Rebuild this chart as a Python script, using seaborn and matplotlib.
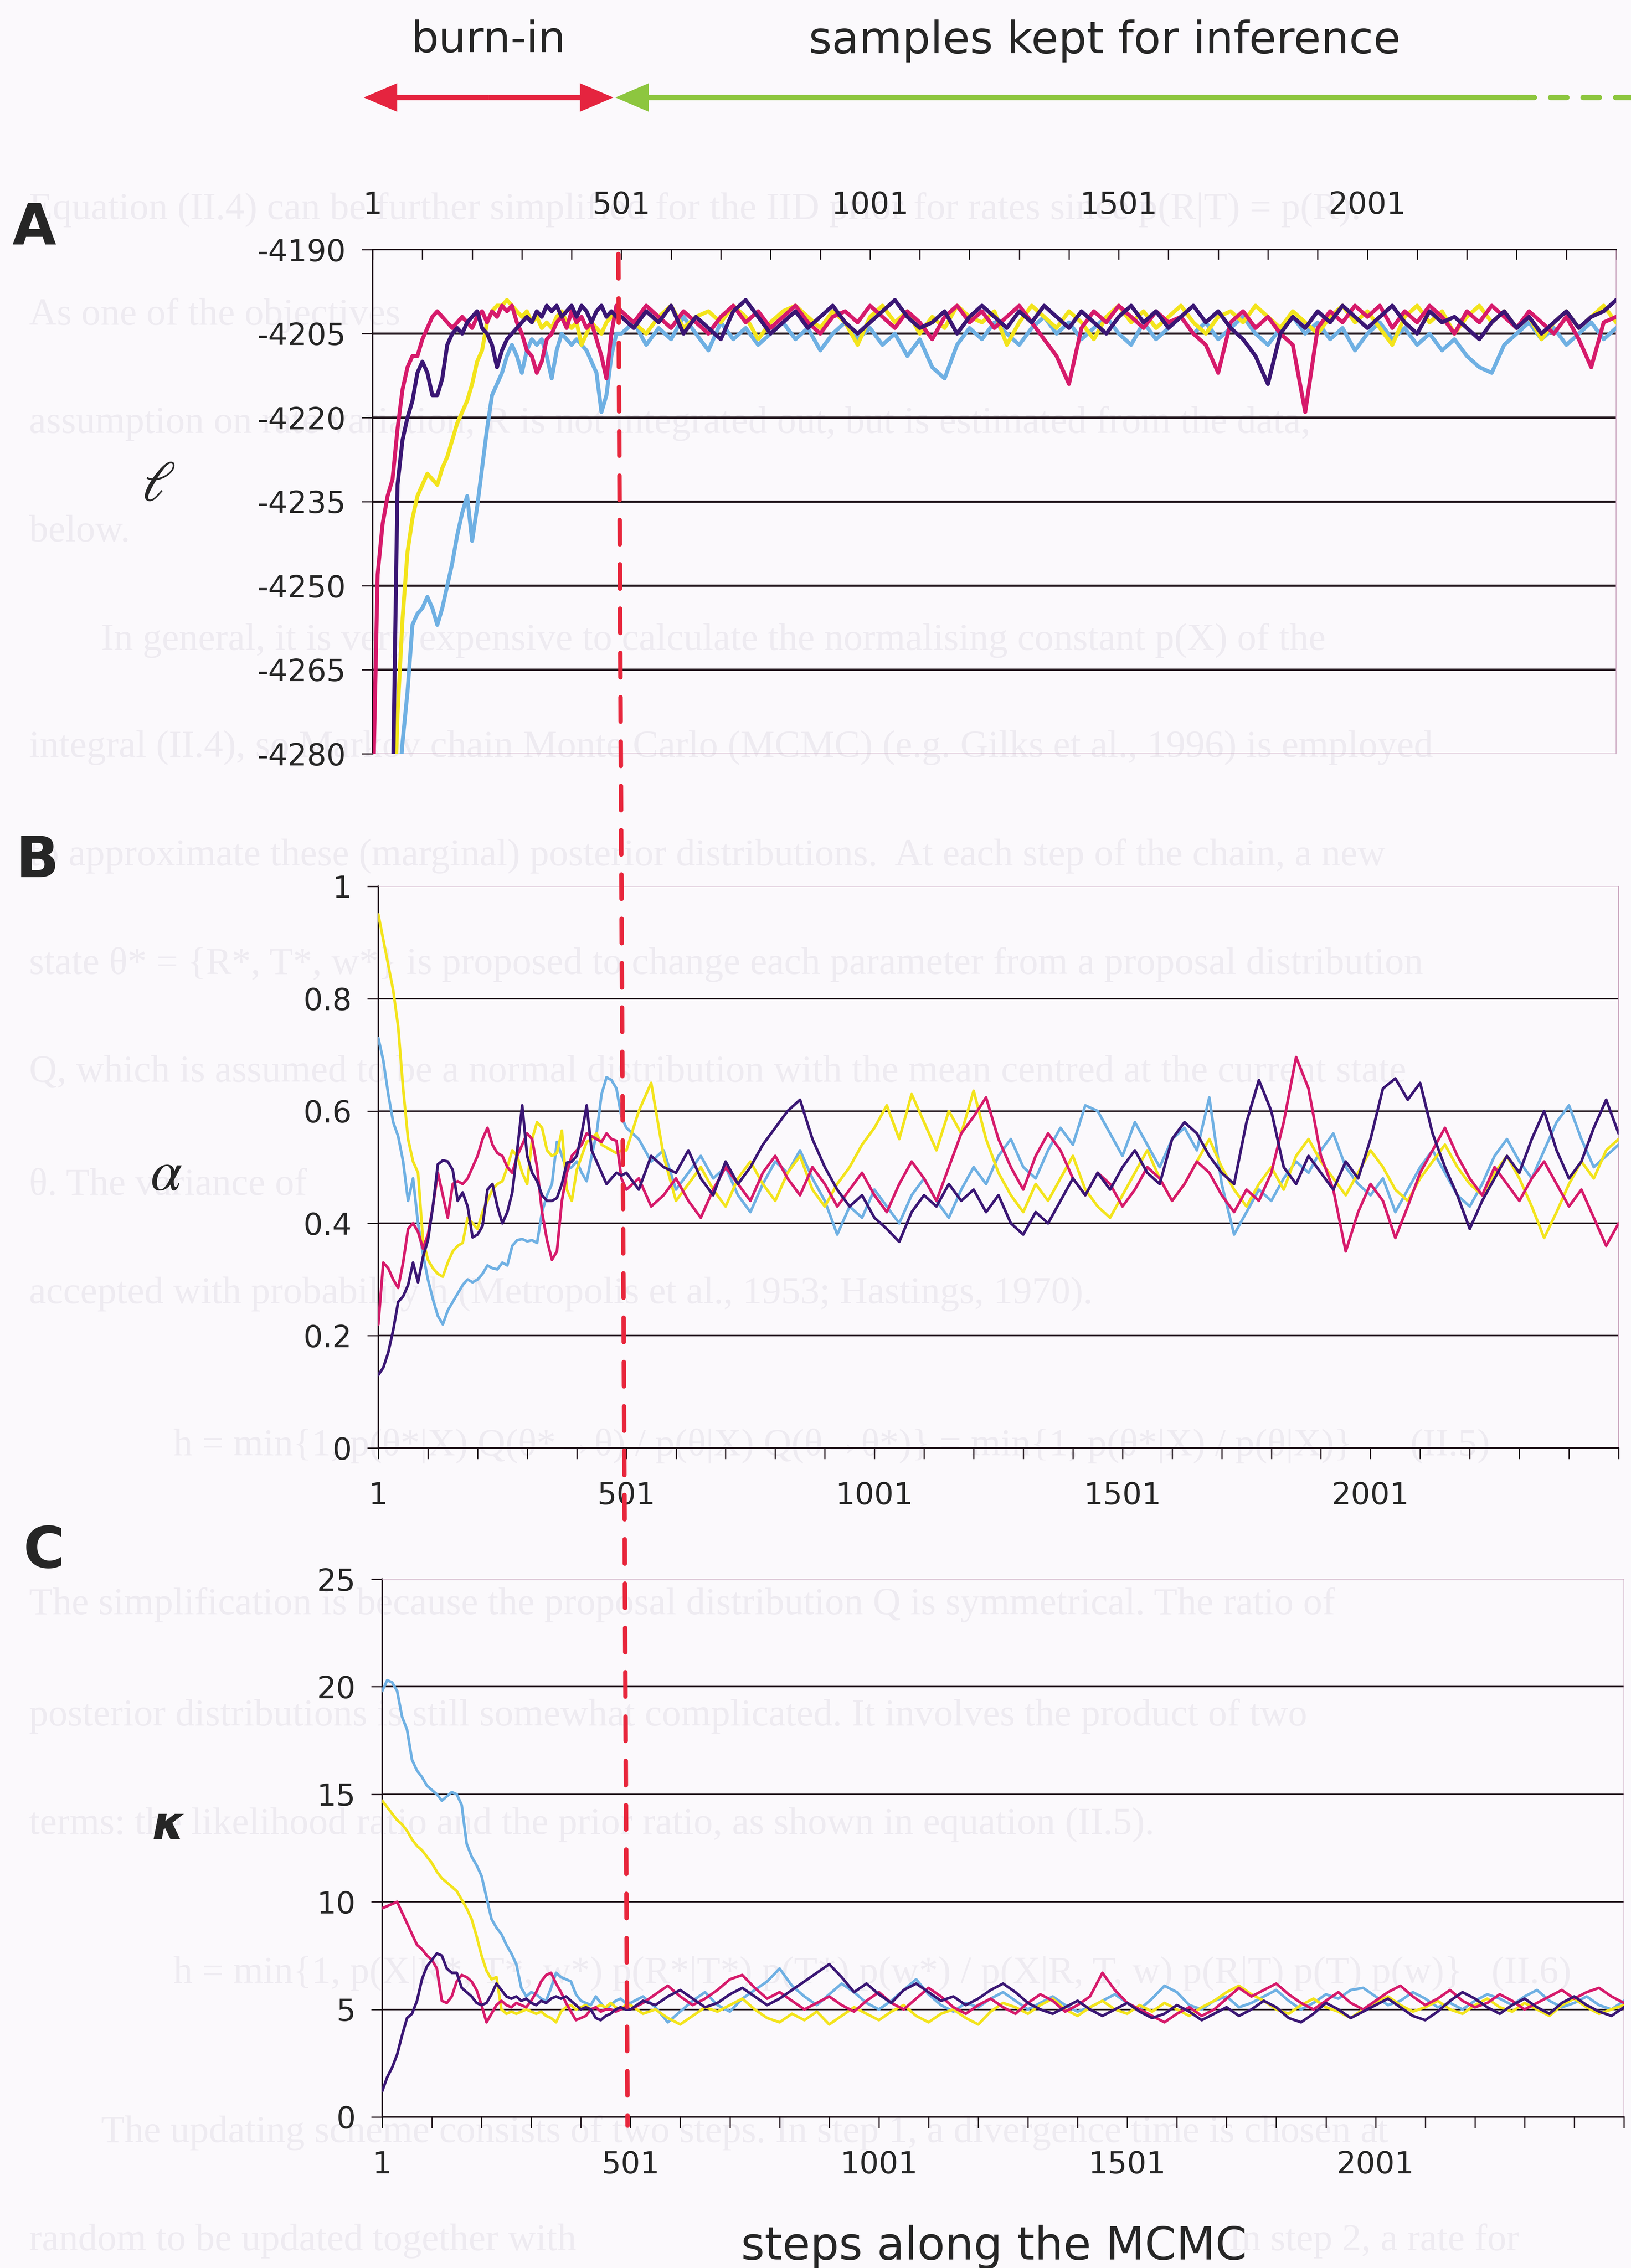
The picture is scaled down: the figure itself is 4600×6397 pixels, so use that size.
import numpy as np
import pandas as pd
import matplotlib
matplotlib.use("Agg")
import matplotlib.pyplot as plt
from matplotlib.patches import ConnectionPatch
import seaborn as sns

# MCMC steps: burn-in read every 10 steps, kept samples every 25 steps
steps_burn = np.arange(1, 501, 10)
steps_kept = np.arange(501, 2502, 25)
steps = np.concatenate([steps_burn, steps_kept])

chains = ["light blue", "yellow", "magenta", "indigo"]
colors = {"magenta": "#d61a6b", "indigo": "#3a1674", "yellow": "#f3e41c", "light blue": "#6fb0e3"}

# ---- panel A: log-likelihood ----
ll_magenta_burn = [-4290, -4248, -4239, -4234, -4231, -4222, -4215, -4211, -4209, -4209,
                   -4206, -4204, -4202, -4201, -4202, -4203, -4204, -4203, -4202, -4203,
                   -4204, -4202, -4201, -4203, -4201, -4202, -4200, -4201, -4200, -4203,
                   -4205, -4208, -4209, -4212, -4210, -4206, -4205, -4203, -4202, -4204,
                   -4201, -4203, -4202, -4204, -4203, -4206, -4209, -4213, -4205, -4200]
ll_indigo_burn = [-4330, -4320, -4310, -4300, -4290, -4232, -4224, -4220, -4217, -4212,
                  -4210, -4212, -4216, -4216, -4213, -4207, -4205, -4204, -4205, -4203,
                  -4202, -4201, -4204, -4205, -4207, -4211, -4208, -4206, -4205, -4204,
                  -4203, -4202, -4203, -4201, -4202, -4200, -4201, -4200, -4202, -4201,
                  -4200, -4202, -4200, -4201, -4203, -4201, -4200, -4202, -4201, -4202]
ll_yellow_burn = [-4400, -4380, -4360, -4340, -4300, -4273, -4256, -4244, -4238, -4234,
                  -4232, -4230, -4231, -4232, -4229, -4227, -4224, -4221, -4219, -4217,
                  -4214, -4210, -4208, -4203, -4201, -4200, -4200, -4199, -4200, -4201,
                  -4202, -4201, -4203, -4202, -4204, -4203, -4204, -4202, -4201, -4203,
                  -4204, -4203, -4207, -4205, -4203, -4204, -4205, -4203, -4202, -4201]
ll_lightblue_burn = [-4420, -4400, -4380, -4360, -4340, -4290, -4278, -4269, -4257, -4255,
                     -4254, -4252, -4254, -4257, -4254, -4250, -4246, -4241, -4237, -4234,
                     -4242, -4236, -4229, -4222, -4216, -4214, -4212, -4209, -4207, -4209,
                     -4212, -4208, -4206, -4207, -4206, -4209, -4213, -4208, -4205, -4206,
                     -4207, -4206, -4207, -4208, -4210, -4212, -4219, -4216, -4209, -4205]
ll_magenta_kept = [-4201, -4203, -4200, -4202, -4204, -4201, -4203, -4205, -4202, -4200,
                   -4203, -4201, -4204, -4202, -4200, -4203, -4205, -4202, -4201, -4203,
                   -4200, -4202, -4204, -4201, -4203, -4206, -4202, -4200, -4203, -4201,
                   -4204, -4202, -4200, -4203, -4206, -4209, -4214, -4204, -4201, -4203,
                   -4200, -4202, -4204, -4201, -4203, -4202, -4205, -4207, -4212, -4203,
                   -4201, -4204, -4202, -4205, -4207, -4219, -4204, -4201, -4203, -4200,
                   -4202, -4200, -4204, -4201, -4203, -4200, -4202, -4205, -4201, -4203,
                   -4200, -4202, -4204, -4201, -4203, -4205, -4202, -4206, -4211, -4203,
                   -4202]
ll_indigo_kept = [-4202, -4204, -4201, -4203, -4200, -4205, -4202, -4204, -4206, -4201,
                  -4199, -4202, -4205, -4203, -4201, -4204, -4202, -4200, -4203, -4205,
                  -4203, -4201, -4199, -4202, -4204, -4203, -4201, -4205, -4202, -4200,
                  -4202, -4204, -4201, -4203, -4200, -4202, -4204, -4201, -4203, -4205,
                  -4202, -4200, -4203, -4201, -4204, -4202, -4200, -4203, -4201, -4204,
                  -4206, -4209, -4214, -4205, -4202, -4204, -4201, -4203, -4200, -4202,
                  -4204, -4202, -4200, -4203, -4205, -4201, -4203, -4202, -4204, -4206,
                  -4203, -4201, -4204, -4202, -4205, -4203, -4201, -4204, -4202, -4201,
                  -4199]
ll_yellow_kept = [-4201, -4203, -4205, -4202, -4200, -4204, -4202, -4201, -4203, -4200,
                  -4202, -4206, -4203, -4201, -4200, -4202, -4204, -4201, -4203, -4207,
                  -4202, -4200, -4203, -4201, -4205, -4202, -4204, -4200, -4202, -4203,
                  -4201, -4207, -4203, -4200, -4202, -4204, -4201, -4203, -4206, -4202,
                  -4200, -4203, -4201, -4204, -4202, -4200, -4203, -4205, -4202, -4201,
                  -4203, -4200, -4202, -4204, -4201, -4203, -4205, -4202, -4200, -4203,
                  -4201, -4204, -4207, -4202, -4200, -4203, -4201, -4205, -4202, -4200,
                  -4203, -4201, -4204, -4202, -4206, -4203, -4201, -4204, -4202, -4200,
                  -4203]
ll_lightblue_kept = [-4205, -4203, -4207, -4204, -4206, -4202, -4205, -4208, -4203, -4206,
                     -4204, -4207, -4205, -4203, -4206, -4204, -4208, -4205, -4203, -4206,
                     -4204, -4207, -4205, -4209, -4206, -4211, -4213, -4207, -4204, -4206,
                     -4203, -4205, -4207, -4204, -4202, -4205, -4203, -4206, -4204, -4202,
                     -4205, -4207, -4203, -4206, -4204, -4202, -4205, -4203, -4206, -4204,
                     -4202, -4205, -4207, -4204, -4202, -4205, -4203, -4206, -4204, -4208,
                     -4205, -4203, -4206, -4204, -4207, -4205, -4208, -4206, -4209, -4211,
                     -4212, -4207, -4205, -4203, -4206, -4204, -4207, -4205, -4203, -4206,
                     -4204]

# ---- panel B: alpha ----
a_yellow_burn = [0.95, 0.905, 0.86, 0.815, 0.75, 0.64, 0.55, 0.51, 0.49, 0.37,
                 0.335, 0.32, 0.31, 0.305, 0.33, 0.35, 0.36, 0.365, 0.41, 0.40,
                 0.39, 0.42, 0.44, 0.46, 0.47, 0.475, 0.50, 0.53, 0.52, 0.49,
                 0.47, 0.55, 0.58, 0.57, 0.53, 0.52, 0.525, 0.565, 0.46, 0.44,
                 0.495, 0.52, 0.545, 0.55, 0.56, 0.54, 0.535, 0.53, 0.525, 0.53]
a_lightblue_burn = [0.73, 0.69, 0.63, 0.58, 0.555, 0.51, 0.44, 0.48, 0.40, 0.345,
                    0.30, 0.265, 0.235, 0.22, 0.245, 0.26, 0.275, 0.29, 0.30, 0.295,
                    0.30, 0.31, 0.325, 0.32, 0.318, 0.33, 0.325, 0.36, 0.37, 0.372,
                    0.368, 0.37, 0.365, 0.42, 0.45, 0.47, 0.545, 0.52, 0.495, 0.50,
                    0.51, 0.49, 0.475, 0.52, 0.56, 0.63, 0.66, 0.655, 0.64, 0.59]
a_magenta_burn = [0.22, 0.33, 0.32, 0.30, 0.285, 0.33, 0.39, 0.40, 0.385, 0.355,
                  0.38, 0.43, 0.49, 0.45, 0.41, 0.47, 0.475, 0.47, 0.48, 0.50,
                  0.52, 0.55, 0.57, 0.54, 0.525, 0.52, 0.50, 0.49, 0.52, 0.54,
                  0.56, 0.55, 0.50, 0.42, 0.37, 0.335, 0.35, 0.44, 0.49, 0.52,
                  0.53, 0.54, 0.56, 0.555, 0.55, 0.545, 0.56, 0.55, 0.547, 0.48]
a_indigo_burn = [0.13, 0.143, 0.17, 0.21, 0.26, 0.27, 0.29, 0.33, 0.295, 0.34,
                 0.37, 0.43, 0.505, 0.512, 0.51, 0.495, 0.44, 0.455, 0.43, 0.375,
                 0.38, 0.395, 0.46, 0.47, 0.43, 0.40, 0.42, 0.455, 0.53, 0.61,
                 0.52, 0.49, 0.475, 0.45, 0.44, 0.44, 0.445, 0.47, 0.508, 0.51,
                 0.52, 0.56, 0.61, 0.53, 0.51, 0.49, 0.47, 0.48, 0.49, 0.485]
a_yellow_kept = [0.53, 0.60, 0.65, 0.52, 0.44, 0.47, 0.50, 0.46, 0.43, 0.48,
                 0.51, 0.47, 0.44, 0.49, 0.52, 0.46, 0.43, 0.47, 0.50, 0.54,
                 0.57, 0.61, 0.55, 0.63, 0.58, 0.53, 0.60, 0.56, 0.636, 0.55,
                 0.49, 0.45, 0.42, 0.47, 0.44, 0.48, 0.52, 0.46, 0.43, 0.41,
                 0.45, 0.49, 0.53, 0.48, 0.44, 0.47, 0.51, 0.55, 0.50, 0.46,
                 0.43, 0.47, 0.50, 0.46, 0.52, 0.55, 0.51, 0.48, 0.45, 0.49,
                 0.53, 0.50, 0.46, 0.44, 0.48, 0.51, 0.54, 0.50, 0.47, 0.45,
                 0.49, 0.52, 0.48, 0.43, 0.374, 0.42, 0.47, 0.51, 0.48, 0.53,
                 0.55]
a_lightblue_kept = [0.57, 0.55, 0.51, 0.53, 0.46, 0.49, 0.52, 0.48, 0.50, 0.45,
                    0.42, 0.47, 0.51, 0.49, 0.53, 0.48, 0.44, 0.38, 0.43, 0.41,
                    0.46, 0.43, 0.40, 0.45, 0.48, 0.44, 0.41, 0.46, 0.50, 0.47,
                    0.52, 0.55, 0.50, 0.48, 0.53, 0.57, 0.54, 0.61, 0.60, 0.56,
                    0.52, 0.58, 0.54, 0.50, 0.55, 0.57, 0.53, 0.624, 0.47, 0.38,
                    0.42, 0.46, 0.44, 0.48, 0.51, 0.49, 0.53, 0.56, 0.50, 0.47,
                    0.45, 0.48, 0.42, 0.46, 0.50, 0.53, 0.49, 0.45, 0.43, 0.47,
                    0.52, 0.55, 0.51, 0.48, 0.53, 0.58, 0.61, 0.55, 0.50, 0.52,
                    0.54]
a_magenta_kept = [0.46, 0.48, 0.43, 0.45, 0.48, 0.44, 0.41, 0.46, 0.50, 0.47,
                  0.44, 0.49, 0.52, 0.48, 0.45, 0.50, 0.47, 0.43, 0.46, 0.49,
                  0.45, 0.42, 0.47, 0.51, 0.48, 0.44, 0.50, 0.56, 0.59, 0.624,
                  0.55, 0.50, 0.46, 0.52, 0.56, 0.53, 0.48, 0.45, 0.49, 0.47,
                  0.43, 0.46, 0.50, 0.48, 0.44, 0.47, 0.51, 0.49, 0.45, 0.42,
                  0.46, 0.44, 0.49, 0.58, 0.696, 0.64, 0.52, 0.46, 0.35, 0.42,
                  0.47, 0.44, 0.374, 0.43, 0.49, 0.53, 0.57, 0.52, 0.48, 0.45,
                  0.50, 0.47, 0.44, 0.48, 0.51, 0.47, 0.43, 0.46, 0.41, 0.36,
                  0.40]
a_indigo_kept = [0.49, 0.46, 0.52, 0.50, 0.49, 0.53, 0.48, 0.45, 0.51, 0.47,
                 0.50, 0.54, 0.57, 0.60, 0.62, 0.55, 0.50, 0.46, 0.43, 0.45,
                 0.41, 0.39, 0.367, 0.42, 0.45, 0.43, 0.47, 0.44, 0.46, 0.42,
                 0.45, 0.40, 0.38, 0.42, 0.40, 0.44, 0.48, 0.45, 0.49, 0.46,
                 0.50, 0.53, 0.49, 0.47, 0.55, 0.58, 0.56, 0.52, 0.49, 0.47,
                 0.58, 0.655, 0.60, 0.50, 0.47, 0.52, 0.49, 0.46, 0.51, 0.48,
                 0.55, 0.64, 0.658, 0.62, 0.65, 0.56, 0.50, 0.45, 0.39, 0.44,
                 0.48, 0.52, 0.49, 0.55, 0.60, 0.53, 0.48, 0.51, 0.57, 0.62,
                 0.56]

# ---- panel C: kappa ----
k_lightblue_burn = [19.8, 20.3, 20.2, 19.8, 18.6, 18.0, 16.6, 16.1, 15.8, 15.4,
                    15.2, 15.0, 14.7, 14.9, 15.1, 15.0, 14.5, 12.7, 12.1, 11.7,
                    11.2, 10.2, 9.2, 8.8, 8.5, 8.0, 7.6, 7.1, 6.0, 5.6,
                    5.8, 5.7, 5.5, 5.4, 6.0, 6.7, 6.5, 6.4, 6.3, 5.7,
                    5.4, 5.3, 5.2, 5.6, 5.3, 5.0, 5.2, 5.4, 5.5, 5.3]
k_yellow_burn = [14.7, 14.4, 14.1, 13.8, 13.6, 13.3, 12.9, 12.6, 12.4, 12.1,
                 11.8, 11.4, 11.1, 10.9, 10.7, 10.5, 10.1, 9.7, 9.2, 8.4,
                 7.5, 6.8, 6.4, 6.5, 5.0, 4.8, 4.9, 4.8, 4.9, 5.0,
                 4.9, 4.8, 4.9, 4.7, 4.6, 4.4, 4.9, 5.1, 5.2, 5.0,
                 5.1, 5.2, 5.0, 5.1, 5.2, 5.1, 5.3, 5.1, 5.0, 5.2]
k_magenta_burn = [9.7, 9.8, 9.9, 10.0, 9.5, 9.0, 8.5, 8.0, 7.8, 7.5,
                  7.3, 6.9, 5.4, 5.3, 5.6, 6.3, 6.6, 6.5, 6.3, 5.9,
                  5.2, 4.4, 4.8, 5.2, 5.4, 5.2, 5.1, 5.3, 5.2, 5.1,
                  5.4, 5.8, 6.3, 6.6, 6.7, 6.2, 5.8, 5.3, 4.9, 4.5,
                  4.6, 4.7, 5.0, 5.1, 4.9, 5.0, 5.0, 4.9, 5.0, 5.1]
k_indigo_burn = [1.2, 1.85, 2.3, 2.9, 3.8, 4.6, 4.8, 5.4, 6.4, 7.0,
                 7.3, 7.6, 7.5, 6.9, 6.7, 6.7, 6.0, 5.8, 5.6, 5.3,
                 5.2, 5.3, 5.7, 6.2, 5.9, 5.6, 5.5, 5.6, 5.4, 5.5,
                 5.3, 5.2, 5.4, 5.3, 5.5, 5.6, 5.5, 5.6, 5.4, 5.2,
                 5.0, 5.1, 5.0, 4.6, 4.5, 4.7, 4.8, 5.0, 5.1, 5.0]
k_lightblue_kept = [5.3, 5.6, 5.1, 4.4, 4.9, 5.4, 5.8, 5.2, 4.9, 5.5,
                    5.9, 6.3, 6.9, 6.1, 5.6, 5.2, 5.7, 6.2, 5.8, 5.3,
                    5.0, 5.4, 5.9, 6.4, 5.7, 5.2, 4.9, 5.3, 5.1, 5.5,
                    5.8, 5.4, 5.0, 5.3, 5.6, 5.2, 4.9, 5.1, 5.4, 5.7,
                    5.3, 5.0, 5.5, 6.1, 5.8, 5.2, 5.0, 5.4, 5.6, 5.1,
                    5.3, 5.6, 5.9, 5.4, 5.0, 5.3, 5.7, 5.5, 5.9, 6.0,
                    5.6, 5.2, 5.4, 5.8, 5.5, 5.1, 5.3, 5.0, 5.4, 5.7,
                    5.5, 5.2, 5.6, 5.9, 5.4, 5.1, 5.3, 5.6, 5.2, 5.0,
                    5.4]
k_yellow_kept = [5.2, 4.8, 5.0, 4.6, 4.3, 4.7, 5.1, 4.9, 5.2, 5.5,
                 5.0, 4.6, 4.4, 4.8, 4.5, 4.9, 4.3, 4.7, 5.1, 4.8,
                 4.5, 4.9, 5.2, 4.7, 4.4, 4.8, 5.0, 4.6, 4.3, 4.9,
                 5.3, 5.1, 4.8, 5.2, 5.5, 5.0, 4.7, 5.1, 5.4, 5.0,
                 4.8, 5.2, 4.9, 5.3, 5.0, 4.7, 5.1, 5.4, 5.8, 6.1,
                 5.7, 5.4, 5.0, 4.8, 5.2, 5.5, 5.1, 4.9, 4.6, 5.0,
                 5.3, 5.6, 5.2, 4.9, 5.1, 5.4, 5.0, 4.8, 5.2, 5.5,
                 5.1, 4.9, 5.3, 5.0, 4.7, 5.2, 5.5, 5.1, 4.8, 5.0,
                 5.2]
k_magenta_kept = [5.0, 5.3, 5.7, 6.1, 5.6, 5.2, 5.5, 5.9, 6.4, 6.6,
                  6.0, 5.5, 5.8, 5.4, 5.0, 5.3, 5.6, 5.2, 4.9, 5.4,
                  5.8, 5.3, 5.0, 5.5, 6.0, 5.6, 5.1, 4.8, 5.2, 5.5,
                  5.1, 4.8, 5.3, 5.7, 5.4, 4.9, 5.2, 5.6, 6.7, 5.9,
                  5.3, 5.0, 4.7, 4.4, 4.8, 5.1, 4.7, 5.0, 5.5, 6.0,
                  5.6, 5.9, 6.2, 5.7, 5.3, 5.0, 5.4, 5.8, 5.3, 5.0,
                  5.4, 5.8, 6.1, 5.6, 5.2, 5.5, 5.9, 5.4, 5.1, 5.3,
                  5.7, 5.4, 5.0, 5.3, 5.6, 5.9, 5.5, 5.8, 6.0, 5.6,
                  5.3]
k_indigo_kept = [5.0, 5.4, 5.2, 5.6, 5.9, 5.5, 5.1, 5.3, 5.7, 6.0,
                 5.6, 5.2, 5.5, 5.9, 6.3, 6.7, 7.1, 6.5, 5.8, 6.2,
                 5.7, 5.3, 5.9, 6.2, 5.8, 5.4, 5.6, 5.2, 5.5, 5.9,
                 6.2, 5.8, 5.3, 5.0, 4.8, 5.1, 5.4, 5.0, 4.7, 5.0,
                 5.3, 4.9, 4.6, 4.8, 5.2, 4.9, 4.5, 4.8, 5.1, 4.7,
                 5.0, 5.4, 5.1, 4.6, 4.4, 4.8, 5.3, 5.0, 4.6, 4.9,
                 5.2, 5.5, 5.1, 4.7, 4.5, 4.9, 5.4, 5.8, 5.5, 5.1,
                 4.8, 5.2, 5.5, 5.1, 4.8, 5.3, 5.6, 5.2, 4.9, 4.7,
                 5.1]

ll_ticks = [-4280, -4265, -4250, -4235, -4220, -4205, -4190]
a_ticks = [0, 0.2, 0.4, 0.6, 0.8, 1]
a_ticklabels = ["0", "0.2", "0.4", "0.6", "0.8", "1"]
k_ticks = [0, 5, 10, 15, 20, 25]
x_major = [1, 501, 1001, 1501, 2001]
x_minor = np.arange(1, 2502, 100)
burn_line_step = 495


def trace_frame(series):
    parts = []
    for name, (burn, kept) in series.items():
        parts.append(pd.DataFrame({"step": steps, "value": list(burn) + list(kept), "chain": name}))
    return pd.concat(parts, ignore_index=True)


df_ll = trace_frame({"magenta": (ll_magenta_burn, ll_magenta_kept), "indigo": (ll_indigo_burn, ll_indigo_kept),
                     "yellow": (ll_yellow_burn, ll_yellow_kept), "light blue": (ll_lightblue_burn, ll_lightblue_kept)})
df_a = trace_frame({"magenta": (a_magenta_burn, a_magenta_kept), "indigo": (a_indigo_burn, a_indigo_kept),
                    "yellow": (a_yellow_burn, a_yellow_kept), "light blue": (a_lightblue_burn, a_lightblue_kept)})
df_k = trace_frame({"magenta": (k_magenta_burn, k_magenta_kept), "indigo": (k_indigo_burn, k_indigo_kept),
                    "yellow": (k_yellow_burn, k_yellow_kept), "light blue": (k_lightblue_burn, k_lightblue_kept)})

sns.set_style("white")
plt.rcParams["font.family"] = ["DejaVu Sans"]
plt.rcParams["axes.unicode_minus"] = False

W, H = 4600, 6397
fig = plt.figure(figsize=(W / 100, H / 100), dpi=100, facecolor="#fbf9fc")


def px_rect(l, t, r, b):
    return [l / W, 1 - b / H, (r - l) / W, (b - t) / H]


# faint bleed-through page text behind the figure
bg_lines = [
    (20, 145, "Equation (II.4) can be further simplified for the IID prior for rates since p(R|T) = p(R)."),
    (20, 218, "As one of the objectives"),
    (20, 293, "assumption on rate variation, R is not integrated out, but is estimated from the data,"),
    (20, 368, "below."),
    (70, 443, "In general, it is very expensive to calculate the normalising constant p(X) of the"),
    (20, 517, "integral (II.4), so Markov chain Monte Carlo (MCMC) (e.g. Gilks et al., 1996) is employed"),
    (20, 592, "to approximate these (marginal) posterior distributions.  At each step of the chain, a new"),
    (20, 667, "state θ* = {R*, T*, w*} is proposed to change each parameter from a proposal distribution"),
    (20, 742, "Q, which is assumed to be a normal distribution with the mean centred at the current state"),
    (20, 820, "θ. The variance of"),
    (20, 895, "accepted with probability h (Metropolis et al., 1953; Hastings, 1970)."),
    (120, 1000, "h = min{1, p(θ*|X) Q(θ*→θ) / p(θ|X) Q(θ→θ*)} = min{1, p(θ*|X) / p(θ|X)}      (II.5)"),
    (20, 1110, "The simplification is because the proposal distribution Q is symmetrical. The ratio of"),
    (20, 1187, "posterior distributions is still somewhat complicated. It involves the product of two"),
    (20, 1262, "terms: the likelihood ratio and the prior ratio, as shown in equation (II.5)."),
    (120, 1365, "h = min{1, p(X|R*, T*, w*) p(R*|T*) p(T*) p(w*) / p(X|R, T, w) p(R|T) p(T) p(w)}   (II.6)"),
    (70, 1475, "The updating scheme consists of two steps. In step 1, a divergence time is chosen at"),
    (20, 1550, "random to be updated together with"),
    (850, 1550, "In step 2, a rate for"),
]
s = W / 1128
for bx, by, txt in bg_lines:
    fig.text(bx * s / W, 1 - by * s / H, txt, fontsize=78, color="#eeebf1", va="center", ha="left",
             family=["Liberation Serif", "DejaVu Serif"], zorder=-5)

panels = [
    dict(df=df_ll, rect=px_rect(1051, 704, 4558, 2126), ylim=(-4280, -4190), yticks=ll_ticks,
         ylabels=[str(v) for v in ll_ticks], lw=8, glw=4.5, top=True),
    dict(df=df_a, rect=px_rect(1067, 2500, 4565, 4084), ylim=(0, 1), yticks=a_ticks,
         ylabels=a_ticklabels, lw=5.5, glw=3, top=False),
    dict(df=df_k, rect=px_rect(1078, 4454, 4580, 5971), ylim=(0, 25), yticks=k_ticks,
         ylabels=[str(v) for v in k_ticks], lw=5.5, glw=3, top=False),
]

axes = []
for p in panels:
    ax = fig.add_axes(p["rect"])
    ax.set_facecolor("none")
    sns.lineplot(data=p["df"], x="step", y="value", hue="chain", hue_order=chains, palette=colors,
                 estimator=None, sort=False, legend=False, linewidth=p["lw"], ax=ax, zorder=3)
    ax.set_xlim(1, 2501)
    ax.set_ylim(*p["ylim"])
    ax.set_xlabel("")
    ax.set_ylabel("")
    for v in p["yticks"][1:-1]:
        ax.axhline(v, color="#1e1219", lw=p["glw"], zorder=2)
    ax.set_yticks(p["yticks"])
    ax.set_yticklabels(p["ylabels"])
    ax.set_xticks(x_major)
    ax.set_xticklabels([str(v) for v in x_major])
    ax.set_xticks(x_minor, minor=True)
    ax.tick_params(axis="y", left=True, direction="out", length=22, width=2.5, pad=32,
                   labelsize=62, color="#1e1219")
    for sp in ax.spines.values():
        sp.set_color("#caa6bf")
        sp.set_linewidth(1.5)
    ax.spines["left"].set_color("#1e1219")
    ax.spines["left"].set_linewidth(3)
    if p["top"]:
        ax.xaxis.set_ticks_position("top")
        ax.tick_params(axis="x", which="both", top=True, bottom=False, labeltop=True, labelbottom=False,
                       direction="in", length=20, width=2.5, pad=60, labelsize=62, color="#1e1219")
        ax.spines["top"].set_color("#1e1219")
        ax.spines["top"].set_linewidth(3)
    else:
        ax.tick_params(axis="x", which="both", bottom=True, direction="out", length=22, width=2.5,
                       pad=46, labelsize=62, color="#1e1219")
        ax.spines["bottom"].set_color("#1e1219")
        ax.spines["bottom"].set_linewidth(3)
    axes.append(ax)

axA, axB, axC = axes

# burn-in boundary across all three panels
con = ConnectionPatch(xyA=(burn_line_step, -4190.8), coordsA="data", axesA=axA,
                      xyB=(burn_line_step, -0.4), coordsB="data", axesB=axC,
                      color="#e8263c", lw=9, linestyle=(0, (5.5, 4.5)), zorder=6)
con.set_annotation_clip(False)
fig.add_artist(con)

# arrows above panel A
arrow_y = 1 - 275 / H
coords = ("data", "figure fraction")
head = "simple,head_length=68,head_width=58,tail_width=11"
for tip in (-17, 485):
    axA.annotate("", xy=(tip, arrow_y), xytext=(234, arrow_y), xycoords=coords, textcoords=coords,
                 arrowprops=dict(arrowstyle=head, mutation_scale=1, color="#e5243f", lw=0,
                                 shrinkA=0, shrinkB=0), annotation_clip=False)
axA.annotate("", xy=(489, arrow_y), xytext=(2304, arrow_y), xycoords=coords, textcoords=coords,
             arrowprops=dict(arrowstyle=head, mutation_scale=1, color="#8dc63f", lw=0,
                             shrinkA=0, shrinkB=0), annotation_clip=False)
axA.annotate("", xy=(2540, arrow_y), xytext=(2304, arrow_y), xycoords=coords, textcoords=coords,
             arrowprops=dict(arrowstyle="-", color="#8dc63f", lw=11, linestyle=(0, (3, 3)),
                             shrinkA=0, shrinkB=0), annotation_clip=False)

fig.text(1378 / W, 1 - 147 / H, "burn-in", fontsize=88, ha="center", va="baseline")
fig.text(3116 / W, 1 - 150 / H, "samples kept for inference", fontsize=90, ha="center", va="baseline")

# panel letters and parameter symbols
fig.text(34 / W, 1 - 644 / H, "A", fontsize=115, fontweight="bold", ha="left", va="center")
fig.text(44 / W, 1 - 2430 / H, "B", fontsize=115, fontweight="bold", ha="left", va="center")
fig.text(66 / W, 1 - 4377 / H, "C", fontsize=115, fontweight="bold", ha="left", va="center")
fig.text(447 / W, 1 - 1368 / H, r"$\ell$", fontsize=115, ha="center", va="center", math_fontfamily="stix")
fig.text(469 / W, 1 - 3312 / H, r"$\alpha$", fontsize=115, ha="center", va="center", math_fontfamily="stix")
fig.text(476 / W, 1 - 5152 / H, "κ", fontsize=95, fontweight="bold", fontstyle="italic",
         ha="center", va="center")

fig.text(2803 / W, 1 - 6373 / H, "steps along the MCMC", fontsize=92, ha="center", va="baseline")

fig.savefig("out.png", dpi=100, facecolor=fig.get_facecolor())
